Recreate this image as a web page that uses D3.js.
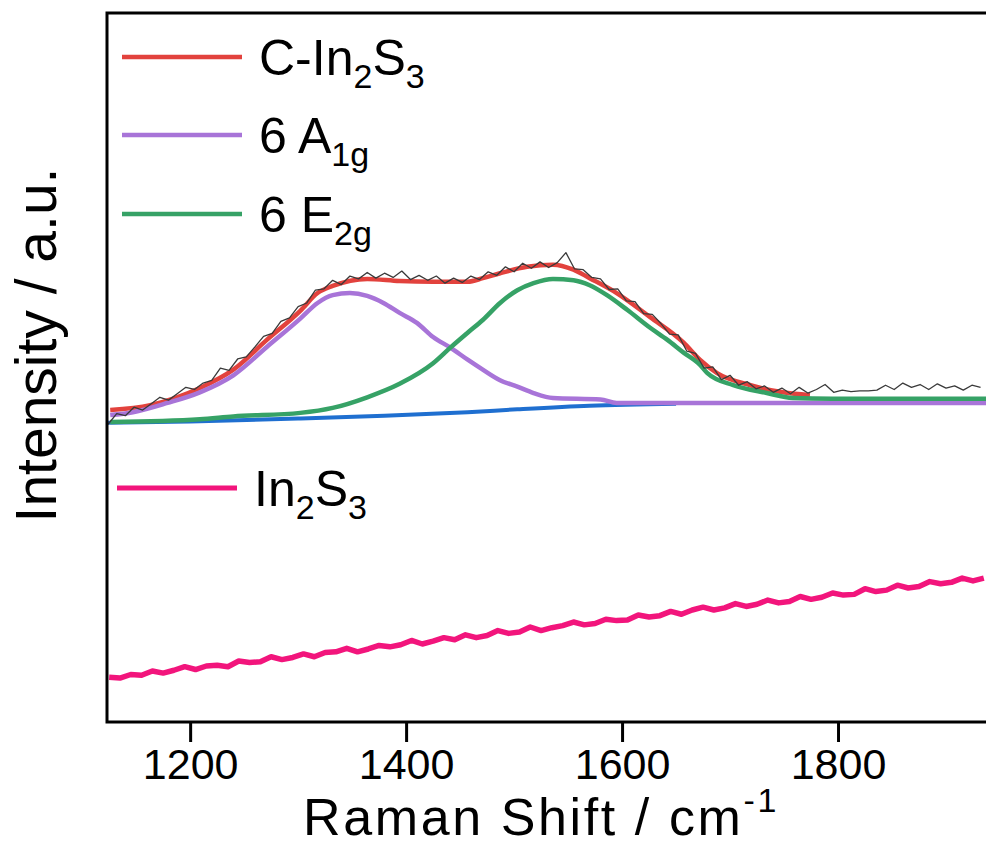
<!DOCTYPE html>
<html>
<head>
<meta charset="utf-8">
<script src="https://cdn.jsdelivr.net/npm/d3@7"></script>
<style>
  html, body { margin: 0; padding: 0; background: #fff; overflow: hidden; }
  svg { display: block; font-family: "Liberation Sans", Arial, sans-serif; }
</style>
</head>
<body>
<script>
// Raman spectra of C-In2S3 (with peak fit) and bare In2S3

// raw C-In2S3 spectrum, sampled every 8 cm-1 from 1124
const rawStart = 1124, rawStep = 8;
const rawIntensity = [
  42.0, 43.5, 43.2, 44.4, 44.0, 44.9, 45.8, 45.4, 46.3, 47.2,
  46.9, 47.8, 48.2, 49.9, 49.6, 51.2, 51.5, 52.9, 54.4, 54.8,
  56.5, 57.0, 58.6, 59.1, 60.9, 61.1, 62.3, 61.7, 62.9, 62.5,
  63.4, 62.6, 63.3, 62.7, 63.6, 62.4, 63.0, 62.3, 62.9, 61.9,
  62.6, 62.0, 62.9, 62.4, 63.5, 63.0, 64.2, 63.5, 64.7, 64.0,
  64.9, 64.1, 64.8, 66.2, 63.9, 63.8, 62.7, 62.5, 61.0, 61.1,
  59.4, 59.3, 57.6, 57.5, 56.2, 54.7, 54.6, 52.3, 52.0, 49.9,
  50.1, 48.3, 48.9, 47.5, 48.0, 47.0, 47.4, 46.5, 47.1, 46.3,
  47.2, 46.4, 46.9, 47.6, 46.5, 46.8, 46.6, 46.7, 46.7, 46.8,
  47.5, 46.9, 47.8, 47.2, 47.6, 46.9, 47.7, 47.1, 47.4, 46.8,
  47.5, 47.2
];

// cumulative fit
const fitShift = [1126, 1163, 1209, 1240, 1271, 1302, 1318, 1332, 1364, 1394, 1425, 1457, 1471, 1487, 1512, 1536, 1555, 1570, 1595, 1626, 1657, 1672, 1688, 1719, 1749, 1774];
const fitIntensity = [44.0, 44.7, 47.1, 49.7, 53.9, 58.0, 60.5, 61.5, 62.5, 62.2, 62.1, 62.1, 62.6, 63.3, 64.2, 64.5, 63.8, 62.6, 60.5, 57.1, 53.5, 51.1, 49.2, 47.5, 46.5, 46.1];

// A1g component
const a1gShift = [1126, 1147, 1179, 1209, 1240, 1271, 1302, 1318, 1332, 1348, 1364, 1379, 1394, 1410, 1425, 1441, 1457, 1471, 1487, 1503, 1518, 1536, 1580, 1595, 1700, 1950];
const a1gIntensity = [43.3, 43.7, 45.0, 46.5, 48.9, 52.9, 56.9, 59.1, 60.2, 60.5, 60.1, 59.1, 57.7, 56.3, 54.3, 52.8, 51.1, 49.7, 48.2, 47.3, 46.4, 45.7, 45.5, 45.0, 45.0, 45.0];

// E2g component
const e2gShift = [1126, 1209, 1240, 1302, 1332, 1364, 1394, 1425, 1441, 1457, 1471, 1487, 1503, 1518, 1536, 1555, 1570, 1586, 1605, 1626, 1642, 1657, 1672, 1679, 1703, 1734, 1758, 1795, 1950];
const e2gIntensity = [42.3, 42.7, 43.1, 43.6, 44.3, 45.8, 47.7, 50.6, 52.8, 54.9, 56.7, 59.1, 60.9, 61.9, 62.5, 62.3, 61.6, 60.2, 58.1, 55.6, 53.9, 52.1, 50.4, 49.2, 47.5, 46.4, 45.7, 45.6, 45.6];

// fitted background
const baseShift = [1123, 1200, 1300, 1380, 1457, 1503, 1570, 1650];
const baseIntensity = [42.2, 42.4, 42.8, 43.2, 43.7, 44.1, 44.6, 44.9];

// bare In2S3 spectrum, sampled every 10 cm-1 from 1125
const inStart = 1125, inStep = 10;
const inIntensity = [
  6.3, 6.2, 6.7, 6.6, 7.2, 6.9, 7.3, 7.8, 7.4, 7.9,
  8.0, 7.8, 8.6, 8.4, 8.5, 9.2, 8.8, 9.1, 9.6, 9.2,
  9.8, 9.9, 10.4, 9.9, 10.3, 10.8, 10.6, 10.9, 11.5, 11.0,
  11.4, 11.9, 11.6, 12.3, 11.9, 12.2, 12.9, 12.5, 12.7, 13.4,
  12.9, 13.3, 13.6, 14.1, 13.7, 13.9, 14.5, 14.3, 14.4, 15.1,
  14.8, 15.0, 15.6, 15.2, 15.8, 16.2, 15.8, 16.1, 16.7, 16.3,
  16.6, 17.2, 16.8, 17.0, 17.7, 17.3, 17.6, 18.2, 17.9, 18.0,
  18.8, 18.4, 18.6, 19.3, 18.9, 19.1, 19.8, 19.5, 19.7, 20.3,
  19.9, 20.3
];

const xTicks = [1200, 1400, 1600, 1800];

const colors = {
  raw: "#3a3a3a",
  fit: "#e2423d",
  a1g: "#a874d8",
  e2g: "#36a266",
  base: "#1f6fd0",
  bare: "#f2157c"
};

const width = 986, height = 846;
const plot = { left: 107, top: 13, right: 1000, bottom: 722 };

const svg = d3.select("body").append("svg")
  .attr("width", width)
  .attr("height", height);

const x = d3.scaleLinear().domain([1123, 1950]).range([plot.left, plot.right]);
const y = d3.scaleLinear().domain([0, 100]).range([plot.bottom, plot.top]);

svg.append("clipPath").attr("id", "plot-clip")
  .append("rect")
  .attr("x", plot.left).attr("y", plot.top)
  .attr("width", plot.right - plot.left).attr("height", plot.bottom - plot.top);

const zip = (xs, ys) => xs.map((v, i) => [v, ys[i]]);
const smooth = d3.line().x(d => x(d[0])).y(d => y(d[1])).curve(d3.curveMonotoneX);
const jagged = d3.line().x(d => x(d[0])).y(d => y(d[1]));

const rawData = rawIntensity.map((v, i) => [rawStart + i * rawStep, v]);
const inData = inIntensity.map((v, i) => [inStart + i * inStep, v]);

const g = svg.append("g").attr("clip-path", "url(#plot-clip)");

const series = [
  { data: zip(baseShift, baseIntensity), color: colors.base, w: 4, gen: smooth },
  { data: zip(fitShift, fitIntensity), color: colors.fit, w: 4.5, gen: smooth },
  { data: zip(a1gShift, a1gIntensity), color: colors.a1g, w: 4.5, gen: smooth },
  { data: zip(e2gShift, e2gIntensity), color: colors.e2g, w: 4.5, gen: smooth },
  { data: rawData, color: colors.raw, w: 1.3, gen: jagged },
  { data: inData, color: colors.bare, w: 5.5, gen: jagged }
];

g.selectAll("path.series")
  .data(series)
  .join("path")
  .attr("class", "series")
  .attr("fill", "none")
  .attr("stroke", d => d.color)
  .attr("stroke-width", d => d.w)
  .attr("stroke-linejoin", "round")
  .attr("d", d => d.gen(d.data));

// frame
svg.append("rect")
  .attr("x", plot.left).attr("y", plot.top)
  .attr("width", plot.right - plot.left).attr("height", plot.bottom - plot.top)
  .attr("fill", "none")
  .attr("stroke", "#000")
  .attr("stroke-width", 3);

// bottom axis
const xAxis = d3.axisBottom(x).tickValues(xTicks).tickSize(20).tickPadding(6).tickFormat(d3.format("d"));
const ax = svg.append("g")
  .attr("transform", "translate(0," + plot.bottom + ")")
  .call(xAxis);
ax.select(".domain").remove();
ax.selectAll(".tick line").attr("stroke", "#000").attr("stroke-width", 3);
ax.selectAll(".tick text")
  .attr("fill", "#000")
  .style("font-size", "43px")
  .style("font-family", "'Liberation Sans', Arial, sans-serif");

// axis titles
const xTitle = svg.append("text")
  .attr("x", 541).attr("y", 835)
  .attr("text-anchor", "middle")
  .style("font-size", "52px")
  .style("letter-spacing", "2.6px");
xTitle.append("tspan").text("Raman Shift / cm");
xTitle.append("tspan").attr("dy", -23).style("font-size", "34px").text("-1");

svg.append("text")
  .attr("transform", "translate(56,345) rotate(-90)")
  .attr("text-anchor", "middle")
  .style("font-size", "57px")
  .text("Intensity / a.u.");

// legend
const legendItems = [
  { y: 57, color: colors.fit, parts: [["C-In", 0], ["2", 1], ["S", 0], ["3", 1]] },
  { y: 135, color: colors.a1g, parts: [["6 A", 0], ["1g", 1]] },
  { y: 214, color: colors.e2g, parts: [["6 E", 0], ["2g", 1]] },
  { y: 488, color: colors.bare, parts: [["In", 0], ["2", 1], ["S", 0], ["3", 1]], x0: 117 }
];

const leg = svg.selectAll("g.legend")
  .data(legendItems)
  .join("g")
  .attr("class", "legend")
  .attr("transform", d => "translate(" + (d.x0 || 122) + "," + d.y + ")");

leg.append("line")
  .attr("x1", 0).attr("x2", 120)
  .attr("stroke", d => d.color)
  .attr("stroke-width", d => d.color === colors.bare ? 5 : 4.5);

leg.append("text")
  .attr("x", 137).attr("y", 18)
  .style("font-size", "50px")
  .each(function(d) {
    const t = d3.select(this);
    let shifted = false;
    d.parts.forEach(([s, sub]) => {
      const ts = t.append("tspan").text(s);
      if (sub && !shifted) { ts.attr("dy", 13).style("font-size", "34px"); shifted = true; }
      else if (sub) { ts.style("font-size", "34px"); }
      else if (shifted) { ts.attr("dy", -13); shifted = false; }
    });
  });
</script>
</body>
</html>
